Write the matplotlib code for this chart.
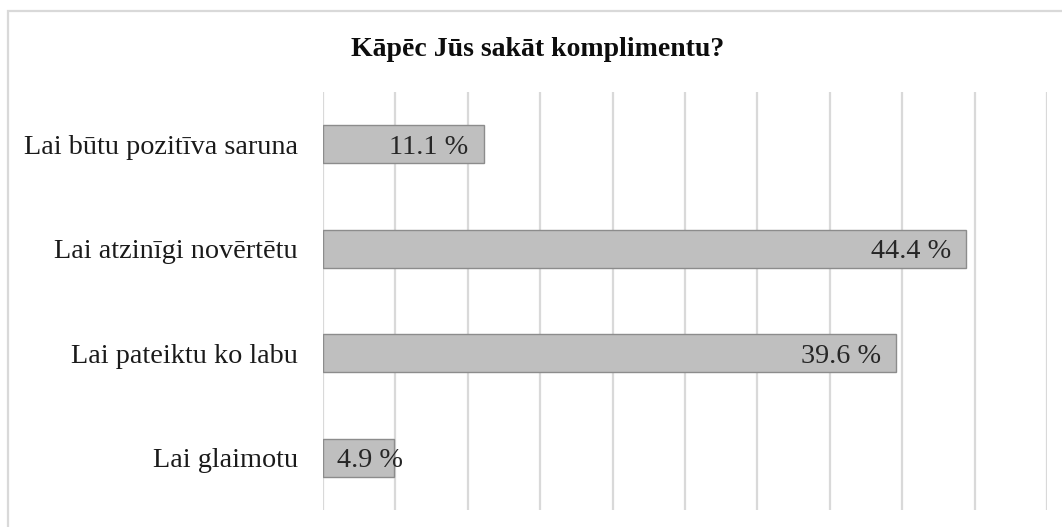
import matplotlib
matplotlib.use("Agg")
import matplotlib.pyplot as plt
from matplotlib.patches import Rectangle

# fonts
plt.rcParams['font.family'] = ['Liberation Serif', 'DejaVu Serif']

# data
categories = ["Lai būtu pozitīva saruna", "Lai atzinīgi novērtētu",
              "Lai pateiktu ko labu", "Lai glaimotu"]
values = [11.1, 44.4, 39.6, 4.9]
title = "Kāpēc Jūs sakāt komplimentu?"

W, H = 1062, 527
fig = plt.figure(figsize=(W / 100, H / 100), dpi=100)

# outer frame of the chart area
fig.patches.append(Rectangle((8 / W, -0.1), 1.2, (H - 11) / H + 0.1,
                             transform=fig.transFigure, fill=False,
                             edgecolor='#d9d9d9', linewidth=1.6))

ax = fig.add_axes([323 / W, 1 - 510 / H, (1047 - 323) / W, (510 - 92) / H])

y = list(range(len(categories)))
ax.barh(y, values, height=0.36, color='#bfbfbf', edgecolor='#8c8c8c',
        linewidth=1.0, zorder=3)

ax.set_xlim(0, 50)
ax.set_ylim(len(categories) - 0.5, -0.5)
ax.set_xticks(range(0, 51, 5))
ax.set_xticklabels([])
ax.set_yticks(y)
ax.set_yticklabels(categories, fontsize=20.3, color='#1a1a1a',
                   va='center_baseline')
ax.tick_params(axis='both', length=0)
ax.tick_params(axis='y', pad=18)
ax.grid(axis='x', color='#d9d9d9', linewidth=1.6, zorder=0)
for s in ax.spines.values():
    s.set_visible(False)

# value labels
for yi, v in zip(y, values):
    txt = f"{v:.1f} %"
    if v < 8:
        ax.annotate(txt, (0, yi), xytext=(14, 0), textcoords='offset pixels',
                    ha='left', va='center_baseline', fontsize=20.3,
                    color='#262626', zorder=4)
    else:
        ax.annotate(txt, (v, yi), xytext=(-15, 0), textcoords='offset pixels',
                    ha='right', va='center_baseline', fontsize=20.3,
                    color='#262626', zorder=4)

fig.text(538 / W, 1 - 47 / H, title, ha='center', va='center_baseline',
         fontsize=20, fontweight='bold', color='#0d0d0d')

fig.savefig("out.png", dpi=100)
